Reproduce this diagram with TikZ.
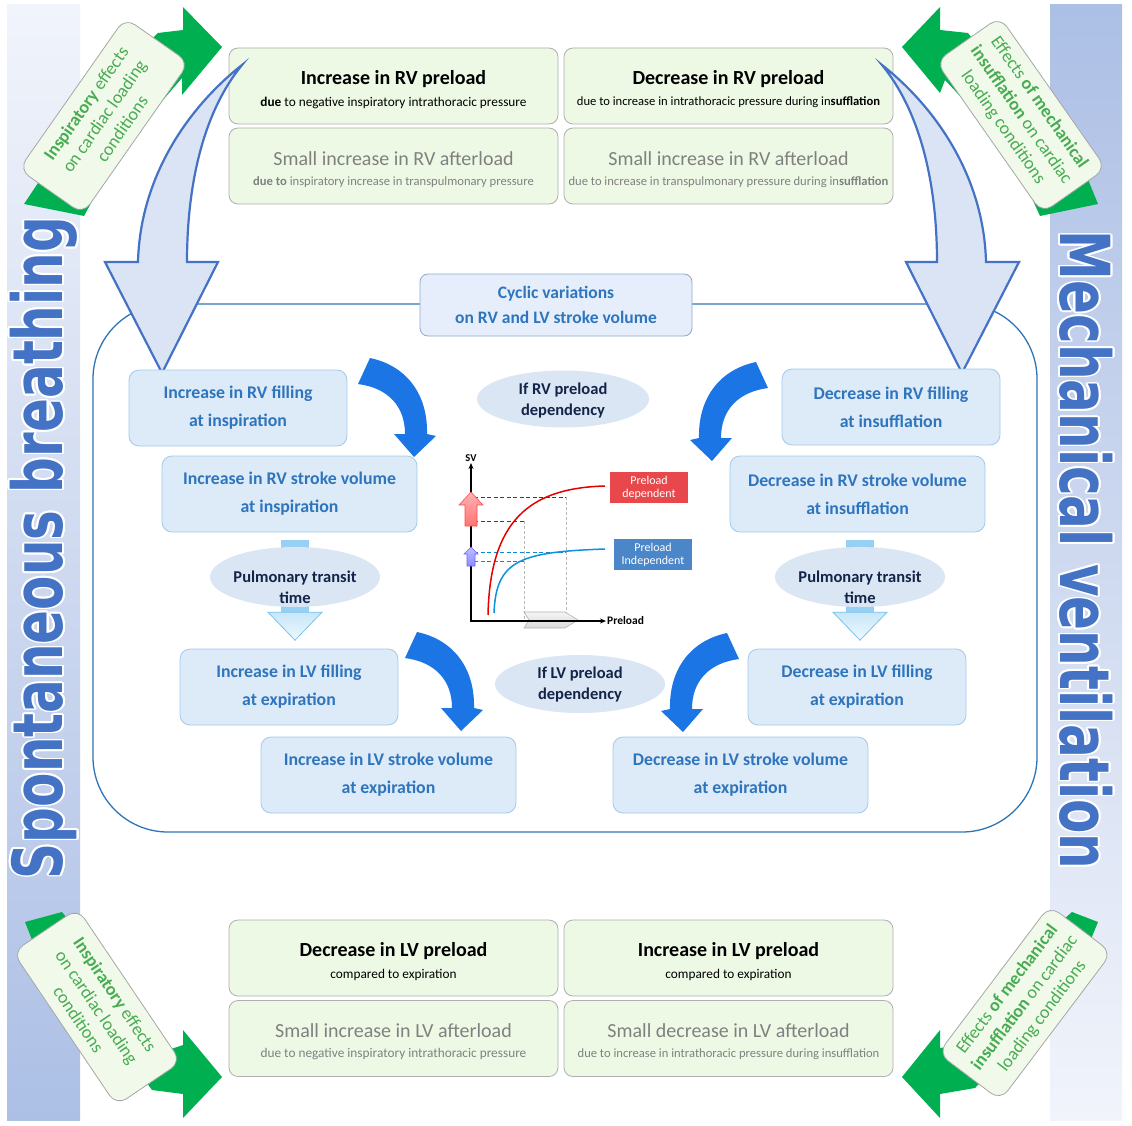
\documentclass[tikz,border=0pt]{standalone}
\usepackage{fontspec}
\setmainfont{Carlito}
\newfontfamily\dejavu{DejaVu Sans}
\usepackage{contour}
\contourlength{1.5pt}
\usetikzlibrary{shapes.geometric,arrows.meta,calc}
\definecolor{bandlight}{RGB}{241,244,251}
\definecolor{bandblue}{RGB}{172,191,229}
\definecolor{bandmid}{RGB}{205,217,239}
\definecolor{titleblue}{RGB}{68,114,196}
\definecolor{boxgreen}{RGB}{237,249,229}
\definecolor{boxborder}{RGB}{175,175,175}
\definecolor{txtgreen}{RGB}{72,172,82}
\definecolor{ribbon}{RGB}{0,176,80}
\definecolor{innerfill}{RGB}{221,234,247}
\definecolor{innerdraw}{RGB}{160,202,236}
\definecolor{innertext}{RGB}{46,117,190}
\definecolor{navy}{RGB}{20,36,72}
\definecolor{ellfill}{RGB}{218,230,244}
\definecolor{bigfill}{RGB}{219,228,244}
\definecolor{bigdraw}{RGB}{68,114,196}
\definecolor{curvblue}{RGB}{28,117,228}
\definecolor{rectline}{RGB}{46,117,182}
\definecolor{graytext}{RGB}{128,128,128}
\definecolor{cycfill}{RGB}{229,238,250}
\definecolor{cycdraw}{RGB}{143,170,205}
\definecolor{stemblue}{RGB}{150,208,242}
\definecolor{headfill}{RGB}{200,231,248}
\definecolor{headdraw}{RGB}{120,195,235}
\definecolor{pdred}{RGB}{232,72,76}
\definecolor{piblue}{RGB}{74,134,200}
\newcommand{\mytitle}{\fontsize{20}{24}\selectfont\bfseries\rule{0pt}{21pt}}
\newcommand{\mytitleR}{\fontsize{20}{24}\selectfont\rule{0pt}{21pt}}
\newcommand{\mysub}{\fontsize{13.3}{15}\selectfont}
\newcommand{\mysubS}{\fontsize{12.6}{15}\selectfont}
\pgfdeclarelayer{bottom}
\pgfdeclarelayer{background}
\pgfsetlayers{bottom,background,main}
\begin{document}
\begin{tikzpicture}[x=1pt,y=-1pt,
  gbox/.style={draw=boxborder, line width=0.8pt, fill=boxgreen, rounded corners=9pt,
    minimum width=329pt, minimum height=76pt, align=center, inner sep=0pt},
  graybox/.style={gbox, text=graytext},
  ibox/.style={draw=innerdraw, line width=0.8pt, fill=innerfill, rounded corners=10pt,
    minimum height=76pt, text=innertext, align=center, inner sep=0pt,
    font=\fontsize{17.8}{28}\selectfont\bfseries},
  ell/.style={ellipse, fill=ellfill, inner sep=0pt},
  elltext/.style={text=navy, align=center, inner sep=0pt,
    font=\fontsize{16.5}{21}\selectfont\bfseries},
  crect/.style={draw=gray!70, line width=0.8pt, fill=boxgreen!80!white, rounded corners=12pt,
    minimum width=185pt, minimum height=78pt, text=txtgreen, align=center, inner sep=0pt,
    font=\fontsize{18}{22}\selectfont},
  bigarrow/.style={fill=bigfill, draw=bigdraw, line width=2.2pt, line join=miter},
  curvarr/.pic={\fill[curvblue] (-44,-99) .. controls (-6,-91) and (14,-61) .. (13,-23)
     -- (22,-21) -- (0,0) -- (-20,-23) -- (-9,-23) .. controls (-9,-51) and (-26,-69) .. (-56,-73) -- cycle;},
  gdash/.style={gray!55, line width=0.7pt, dash pattern=on 3pt off 2pt},
  rdash/.style={red!85!black, line width=0.8pt, dash pattern=on 4pt off 2.5pt},
  bdash/.style={cyan!70!blue, line width=0.8pt, dash pattern=on 4pt off 2.5pt}
]
\useasboundingbox (0,0) rectangle (1132,1126);
\begin{pgfonlayer}{bottom}
\fill[white] (0,0) rectangle (1132,1126);
\end{pgfonlayer}

% side bands
\shade[top color=bandlight, middle color=bandblue!85!white, bottom color=bandblue] (7,5) rectangle (80,1120);
\shade[top color=bandblue, middle color=bandmid, bottom color=bandlight] (1050,5) rectangle (1122,1120);

% side titles
\node[text=titleblue, rotate=90] (sbr) at (45,548)
  {\scalebox{1}[1.38]{\dejavu\bfseries\fontsize{50}{50}\selectfont\contour{white}{Spontaneous breathing}}};
\node[text=titleblue, rotate=-90] (mv) at (1085,550)
  {\scalebox{1}[1.38]{\dejavu\bfseries\fontsize{50}{50}\selectfont\contour{white}{Mechanical ventilation}}};

% green ribbons
\fill[ribbon] (24,204) -- (84,216) -- (120,150) -- (182,78) -- (182,95) -- (222,47) -- (183,7) -- (183,30) -- (158,33) -- (140,50) -- (60,150) -- cycle;
\fill[ribbon] (902,47) -- (940,7) -- (940,30) -- (968,33) -- (985,55) -- (1080,160) -- (1098,204) -- (1040,216) -- (1010,150) -- (945,80) -- (940,93) -- cycle;
\fill[ribbon] (25,922) -- (62,912) -- (100,960) -- (168,1050) -- (183,1045) -- (183,1030) -- (222,1077) -- (183,1118) -- (183,1094) -- (152,1090) -- (130,1060) -- (40,960) -- cycle;
\fill[ribbon] (1072,912) -- (1098,922) -- (1070,990) -- (975,1088) -- (940,1094) -- (940,1118) -- (902,1077) -- (940,1030) -- (940,1048) -- (960,1045) -- (1040,940) -- cycle;

% corner labels
\node[crect, rotate=55] (cTL) at (104,116) {\textbf{Inspiratory} effects\\on cardiac loading\\conditions};
\node[crect, rotate=-55] (cTR) at (1021,115) {Effects \textbf{of mechanical}\\\textbf{insufflation} on cardiac\\loading conditions};
\node[crect, rotate=-56] (cBL) at (97,1007) {\textbf{Inspiratory} effects\\on cardiac loading\\conditions};
\node[crect, rotate=53] (cBR) at (1025,1003) {Effects \textbf{of mechanical}\\\textbf{insufflation} on cardiac\\loading conditions};

% top boxes
\node[gbox] (rvpre) at (393.5,86) {\mytitle Increase in RV preload\\[8pt]\mysub\textbf{due} to negative inspiratory intrathoracic pressure};
\node[gbox] (rvpreM) at (728.5,86) {\mytitle Decrease in RV preload\\[8pt]\mysubS due to increase in intrathoracic pressure during in\textbf{sufflation}};
\node[graybox] (rvaft) at (393.5,166) {\mytitleR Small increase in RV afterload\\[8pt]\mysubS\textbf{due to} inspiratory increase in transpulmonary pressure};
\node[graybox] (rvaftM) at (728.5,166) {\mytitleR Small increase in RV afterload\\[8pt]\mysubS due to increase in transpulmonary pressure during in\textbf{sufflation}};

% bottom boxes
\node[gbox] (lvpre) at (393.5,958) {\mytitle Decrease in LV preload\\[8pt]\mysub compared to expiration};
\node[gbox] (lvpreM) at (728.5,958) {\mytitle Increase in LV preload\\[8pt]\mysub compared to expiration};
\node[graybox] (lvaft) at (393.5,1038.5) {\mytitleR Small increase in LV afterload\\[8pt]\mysub due to negative inspiratory intrathoracic pressure};
\node[graybox] (lvaftM) at (728.5,1038.5) {\mytitleR Small decrease in LV afterload\\[8pt]\mysubS due to increase in intrathoracic pressure during insufflation};

% central frame
\node[draw=rectline, line width=1.3pt, rounded corners=75pt, minimum width=944pt, minimum height=528pt, inner sep=0pt] (frame) at (565,568) {};
\node[draw=cycdraw, line width=0.8pt, fill=cycfill, rounded corners=8pt, minimum width=272pt, minimum height=62pt,
  text=innertext, align=center, inner sep=0pt, font=\fontsize{17.5}{25}\selectfont\bfseries] (cyc) at (556,305)
  {Cyclic variations\\on RV and LV stroke volume};

% big curved arrows
\draw[bigarrow] (242,65) .. controls (185,110) and (140,180) .. (138,262) -- (105,262) -- (162,373) -- (218,262) -- (187,262) .. controls (187,180) and (205,110) .. (242,65) -- cycle;
\draw[bigarrow] (882,65) .. controls (939,110) and (984,180) .. (986,262) -- (1019,262) -- (962,373) -- (906,262) -- (937,262) .. controls (937,180) and (919,110) .. (882,65) -- cycle;

% inner nodes
\node[ibox, minimum width=218pt] (A) at (238,408) {Increase in RV filling\\at inspiration};
\node[ibox, minimum width=255pt] (B) at (289.5,494) {Increase in RV stroke volume\\at inspiration};
\node[ell, minimum width=170pt, minimum height=60pt] (C) at (295,577) {};
\node[elltext] (Ct) at (295,587) {Pulmonary transit\\time};
\node[ibox, minimum width=218pt] (D) at (289,687) {Increase in LV filling\\at expiration};
\node[ibox, minimum width=255pt] (E) at (388.5,775) {Increase in LV stroke volume\\at expiration};

\node[ibox, minimum width=218pt] (F) at (891,407) {Decrease in RV filling\\at insufflation};
\node[ibox, minimum width=255pt] (G) at (857.5,494) {Decrease in RV stroke volume\\at insufflation};
\node[ell, minimum width=170pt, minimum height=60pt] (H) at (860,577) {};
\node[elltext] (Ht) at (860,587) {Pulmonary transit\\time};
\node[ibox, minimum width=218pt] (I) at (857,687) {Decrease in LV filling\\at expiration};
\node[ibox, minimum width=255pt] (J) at (740.5,775) {Decrease in LV stroke volume\\at expiration};

\node[ell, minimum width=172pt, minimum height=57pt] (rvdep) at (563,399) {};
\node[elltext] (rvdept) at (563,401) {If RV preload\\dependency};
\node[ell, minimum width=170pt, minimum height=58pt] (lvdep) at (580,684) {};
\node[elltext] (lvdept) at (580,685) {If LV preload\\dependency};

% pulmonary transit connectors
\begin{pgfonlayer}{background}
\fill[stemblue] ($(C.north)+(-14,-7)$) rectangle ($(C.south)+(14,5)$);
\fill[stemblue] ($(H.north)+(-14,-7)$) rectangle ($(H.south)+(14,5)$);
\end{pgfonlayer}
\draw[headdraw, line width=0.8pt, top color=headfill, bottom color=white!70!headfill] ($(C.south)+(-27,5)$) -- ($(C.south)+(27,5)$) -- ($(C.south)+(0,33)$) -- cycle;
\draw[headdraw, line width=0.8pt, top color=headfill, bottom color=white!70!headfill] ($(H.south)+(-27,5)$) -- ($(H.south)+(27,5)$) -- ($(H.south)+(0,33)$) -- cycle;

% curved solid arrows
\pic at (414,457) {curvarr};
\pic at (461,731) {curvarr};
\pic[xscale=-1] at (712,461) {curvarr};
\pic[xscale=-1] at (683,732) {curvarr};

% graph
\coordinate (O) at (471,621);
\coordinate (Yt) at (471,463);
\coordinate (Xe) at (606,621);
\draw[gdash] (524,521) -- (524,621);
\draw[gdash] (566,497) -- (566,621);
\draw[rdash] (474,497) -- (566,497);
\draw[rdash] (474,521) -- (524,521);
\draw[bdash] (474,552) -- (566,552);
\draw[bdash] (474,561) -- (524,561);
\draw[red!90!black, line width=1.5pt] (488,615) .. controls (490,520) and (530,488) .. (605,486);
\draw[cyan!80!blue, line width=1.5pt] (494,613) .. controls (496,560) and (520,552) .. (605,549);
\draw[gray!60, line width=0.6pt, top color=gray!8, bottom color=gray!30] (524,612) -- (565,612) -- (578,620) -- (565,628) -- (524,628) -- (529,620) -- cycle;
\draw[line width=1.2pt, -{Stealth[length=6pt,width=5pt]}] (O) -- (Yt);
\draw[line width=1.2pt, -{Stealth[length=6pt,width=5pt]}] ([xshift=-0.6pt]O) -- (Xe);
\draw[red!70, line width=0.6pt, top color=red!30, bottom color=red!55] (471,492) -- (483,505) -- (477,505) -- (477,526) -- (465,526) -- (465,505) -- (459,505) -- cycle;
\draw[blue!60, line width=0.6pt, top color=blue!25, bottom color=blue!45] (471,547) -- (478,554) -- (475,554) -- (475,566) -- (467,566) -- (467,554) -- (464,554) -- cycle;
\node[anchor=south, font=\fontsize{10.5}{12}\selectfont\bfseries, inner sep=1pt] (sv) at (Yt) {SV};
\node[anchor=west, font=\fontsize{11.5}{13}\selectfont\bfseries, inner sep=1pt] (pl) at (Xe) {Preload};
\node[fill=pdred, text=white, minimum width=78pt, minimum height=31pt, inner sep=0pt, align=center,
  font=\fontsize{12}{13}\selectfont] (pdep) at (649,487.5) {Preload\\dependent};
\node[fill=piblue, text=white, minimum width=78pt, minimum height=31pt, inner sep=0pt, align=center,
  font=\fontsize{12}{13}\selectfont] (pind) at (653,554.5) {Preload\\Independent};
\end{tikzpicture}
\end{document}
